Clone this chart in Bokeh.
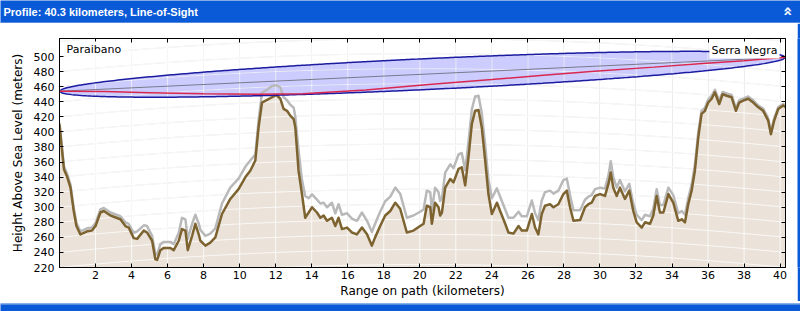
import numpy as np
from bokeh.plotting import figure
from bokeh.models import Range1d, LinearAxis, FixedTicker, Label, Span
from bokeh.layouts import column, row
from bokeh.embed import file_html
from bokeh.resources import INLINE

# ---------------- data ----------------
TITLE = "Profile: 40.3 kilometers, Line-of-Sight"
PATH_KM = 40.3
SITE_A = "Paraibano"
SITE_B = "Serra Negra"
ANT_A_M = 454.0          # antenna height above sea level, site A
ANT_B_M = 499.0          # antenna height above sea level, site B
FRESNEL_MAX_M = 20.5     # first Fresnel zone radius at mid path
K_FACTOR = 4.0 / 3.0
EARTH_R_KM = 6371.0

X_TICKS = list(range(2, 41, 2))
Y_TICKS = list(range(220, 501, 20))
GRID_LEVELS = list(range(200, 541, 20))

dist_km = [0.0, 0.1, 0.25, 0.43, 0.61, 0.79, 0.94, 1.16, 1.35, 1.53, 1.8, 2.0, 2.27, 2.46, 2.83,
           3.38, 3.66, 3.84, 4.12, 4.31, 4.68, 4.86, 5.14, 5.32, 5.42, 5.6, 5.79, 6.16, 6.34, 6.62,
           6.8, 6.99, 7.12, 7.36, 7.54, 7.73, 7.82, 8.1, 8.37, 8.65, 9.02, 9.48, 9.94, 10.32, 10.59,
           10.87, 11.05, 11.24, 11.52, 11.8, 12.04, 12.26, 12.44, 12.63, 12.81, 13.0, 13.09, 13.27,
           13.46, 13.64, 13.83, 14.02, 14.29, 14.48, 14.66, 14.85, 15.12, 15.31, 15.49, 15.68, 15.96,
           16.23, 16.51, 16.79, 17.07, 17.34, 17.52, 17.8, 18.08, 18.36, 18.64, 18.91, 19.28, 19.65,
           20.02, 20.21, 20.39, 20.58, 20.67, 20.85, 21.04, 21.13, 21.23, 21.41, 21.69, 21.87, 22.15,
           22.33, 22.52, 22.7, 22.89, 23.07, 23.26, 23.44, 23.63, 23.81, 24.0, 24.28, 24.46, 24.74,
           24.92, 25.2, 25.48, 25.66, 25.94, 26.22, 26.4, 26.58, 26.77, 26.95, 27.23, 27.42, 27.69,
           27.97, 28.16, 28.34, 28.53, 28.9, 29.17, 29.36, 29.54, 29.73, 30.01, 30.28, 30.47, 30.6,
           30.74, 30.93, 31.11, 31.39, 31.63, 31.85, 32.04, 32.32, 32.5, 32.78, 32.96, 33.15, 33.33,
           33.52, 33.8, 34.07, 34.35, 34.54, 34.72, 34.9, 35.09, 35.27, 35.46, 35.64, 35.83, 36.01,
           36.2, 36.38, 36.62, 36.81, 37.03, 37.31, 37.55, 37.73, 37.95, 38.23, 38.51, 38.79, 39.06,
           39.34, 39.49, 39.67, 39.9, 40.17, 40.3]

terrain_m = [410, 385, 350, 340, 326, 295, 275, 264, 266, 268, 269, 275, 293, 295, 289,
             284, 275, 273, 259, 258, 269, 266.5, 255.5, 231, 230, 243, 246, 246, 243, 255.5,
             271, 269, 243, 262, 278, 264, 255.5, 249, 253, 260, 291, 311, 324, 340, 348.5,
             362, 406, 439, 442.5, 446, 449, 444, 430.5, 428, 421.6, 417, 406, 348.5,
             317.5, 286, 293, 300, 293, 286, 289, 282, 286, 275, 286, 271, 273,
             266.5, 264, 273, 264, 249, 260, 275, 289, 295, 306, 298, 266.5, 269,
             275, 278, 302, 300, 278, 306, 300, 289, 293, 326, 337.5, 333, 351,
             353, 329, 366, 410.6, 428, 429, 406, 362, 317.5, 291, 306, 295, 278,
             266.5, 265, 275, 269, 269, 291, 273, 264, 291, 302, 304, 300, 304,
             317.5, 322, 300, 282, 283, 300, 304, 306, 315, 317.5, 315, 331, 346,
             326, 315, 326, 311, 322, 295, 280, 273, 280, 278, 289, 315, 293,
             293, 317.5, 306, 282, 284, 280, 304, 322, 348.5, 393, 424, 428, 439,
             444, 452.6, 437, 450, 448, 446, 428, 439, 441.5, 444, 439, 432.6, 428,
             415, 397, 415, 430.5, 435, 433]

clutter_top_m = [412, 388, 354, 344, 330, 299, 279, 268, 270, 272, 273, 279, 297, 299, 293,
                 288, 280, 278, 266, 268, 276, 275, 262, 238, 237, 251, 254, 254, 251, 266,
                 286, 284, 258, 278, 290, 278, 270, 262, 265, 272, 305, 326, 338, 354, 362,
                 370, 415, 452, 456, 461, 462, 459, 446, 442, 436, 432, 420, 375,
                 336, 315, 312, 317, 310, 305, 306, 300, 306, 292, 304, 290, 292,
                 285, 282, 293, 282, 267, 278, 294, 308, 314, 326, 318, 286, 289,
                 294, 297, 322, 320, 296, 326, 320, 308, 312, 346, 357, 352, 370,
                 372, 349, 386, 430, 447, 448, 425, 382, 337, 312, 325, 314, 297,
                 286, 286, 294, 288, 288, 309, 292, 283, 309, 320, 322, 318, 322,
                 336, 338, 316, 296, 296, 310, 314, 316, 324, 326, 325, 342, 361,
                 340, 326, 336, 321, 331, 305, 290, 283, 290, 288, 298, 324, 303,
                 303, 326, 316, 292, 295, 290, 312, 330, 356, 400, 428, 432, 443,
                 448, 456, 441, 453, 451, 449, 431, 442, 444, 447, 442, 435, 431,
                 418, 400, 418, 433, 437, 435]

refr_km = [0, 2.5, 5, 8, 11, 13.5, 17, 20.5, 24, 27.2, 29.7, 33, 35.5, 38, 40.3]
refr_m = [454, 453.5, 452, 450.5, 450, 450.5, 455.5, 463, 469.5, 476, 480.5, 486, 490.5, 494.5, 499]

# ---------------- styles ----------------
BLUE = "#0a5ad7"
LIGHT = "#9dbbe8"
FONT = "DejaVu Sans"
Y_START, Y_END = 220, 524

# ---------------- header ----------------
hdr = figure(width=800, height=23, x_range=Range1d(0, 800), y_range=Range1d(0, 23),
             output_backend="svg", toolbar_location=None, title=None,
             x_axis_location=None, y_axis_location=None, min_border=0,
             background_fill_color=BLUE, border_fill_color=BLUE, outline_line_color=None)
hdr.grid.visible = False
hdr.add_layout(Label(x=3, y=12, text=TITLE, text_baseline="middle", text_color="white",
                     text_font="Liberation Sans", text_font_style="bold", text_font_size="11px"))
hdr.add_layout(Label(x=788, y=12, text="\u00ab", angle=-np.pi / 2, text_align="center",
                     text_baseline="middle", text_color="white", text_font="DejaVu Sans",
                     text_font_style="bold", text_font_size="16px"))
hdr.add_layout(Span(location=0.5, dimension="width", line_color=LIGHT, line_width=1))

# ---------------- main plot ----------------
p = figure(width=797, height=278, x_range=Range1d(0, PATH_KM), y_range=Range1d(Y_START, Y_END),
           output_backend="svg", toolbar_location=None, title=None,
           min_border_left=59, min_border_right=12, min_border_top=15, min_border_bottom=34,
           background_fill_color="white", border_fill_color="white", outline_line_color="black")

p.xaxis.ticker = FixedTicker(ticks=X_TICKS)
p.yaxis.ticker = FixedTicker(ticks=Y_TICKS)
p.xgrid.ticker = FixedTicker(ticks=X_TICKS)
p.xgrid.grid_line_color = "#e0e0e0"
p.ygrid.visible = False

for ax in (p.xaxis, p.yaxis):
    ax.major_tick_in = 4
    ax.major_tick_out = 0
    ax.minor_tick_line_color = None
    ax.axis_line_color = "black"
    ax.major_tick_line_color = "black"
    ax.major_label_text_font = FONT
    ax.major_label_text_font_size = "11px"
    ax.major_label_text_color = "black"
    ax.axis_label_text_font = FONT
    ax.axis_label_text_font_size = "12px"
    ax.axis_label_text_font_style = "normal"
    ax.axis_label_text_color = "black"
p.xaxis.axis_label = "Range on path (kilometers)"
p.yaxis.axis_label = "Height Above Sea Level (meters)"
p.xaxis.major_label_standoff = 3
p.xaxis.axis_label_standoff = 2
p.yaxis.major_label_standoff = 5
p.yaxis.axis_label_standoff = 6

# tick-only axes on top and right (no labels drawn)
for loc, ticks in (("above", X_TICKS), ("right", Y_TICKS)):
    ax = LinearAxis(ticker=FixedTicker(ticks=ticks), major_tick_in=4, major_tick_out=0,
                    minor_tick_line_color=None, major_label_text_color=None,
                    major_label_text_font_size="1px", major_label_standoff=0,
                    axis_line_color="black", major_tick_line_color="black")
    p.add_layout(ax, loc)

# curved (earth-bulge) grid lines and vertical grid lines
xg = np.linspace(0, PATH_KM, 200)
bulge = xg * (PATH_KM - xg) / (2 * K_FACTOR * EARTH_R_KM) * 1000.0
curve_xs = [xg for _ in GRID_LEVELS]
curve_ys = [lvl + bulge for lvl in GRID_LEVELS]
vert_xs = [[t, t] for t in X_TICKS]
vert_ys = [[Y_START, Y_END] for _ in X_TICKS]

p.multi_line(curve_xs, curve_ys, line_color="#e0e0e0", line_width=1)

# terrain fill
p.varea(x=dist_km, y1=0, y2=terrain_m, fill_color="#ebe3da")

# Fresnel zone
xe = np.linspace(0, PATH_KM, 300)
los = ANT_A_M + (ANT_B_M - ANT_A_M) * xe / PATH_KM
rad = FRESNEL_MAX_M * 2 * np.sqrt(np.clip(xe * (PATH_KM - xe), 0, None)) / PATH_KM
ex = np.concatenate([xe, xe[::-1]])
ey = np.concatenate([los + rad, (los - rad)[::-1]])
p.patch(ex, ey, fill_color="#6464ff", fill_alpha=0.33, line_color=None)

# light grid lines over the fills
p.multi_line(curve_xs, curve_ys, line_color="white", line_alpha=0.75, line_width=1)
p.multi_line(vert_xs, vert_ys, line_color="white", line_alpha=0.75, line_width=1)

# terrain lines
p.line(dist_km, clutter_top_m, line_color="#b9b9b9", line_width=2.5, line_join="round")
p.line(dist_km, terrain_m, line_color="#7d6330", line_width=2.5, line_join="round")

# Fresnel outline, line of sight, refracted ray
p.line(np.append(ex, ex[0]), np.append(ey, ey[0]), line_color="#1c1ca0", line_width=1.5)
p.line([0, PATH_KM], [ANT_A_M, ANT_B_M], line_color="#7a7a8c", line_width=1)
p.line(refr_km, refr_m, line_color="#d8284f", line_width=1.5)

p.add_layout(Label(x=0, y=Y_END, x_offset=6, y_offset=-3, text=SITE_A, text_baseline="top",
                   text_font=FONT, text_font_size="11px", text_color="black",
                   background_fill_color="white", padding=1))
p.add_layout(Label(x=PATH_KM, y=Y_END, x_offset=-6, y_offset=-3, text=SITE_B, text_align="right",
                   text_baseline="top", text_font=FONT, text_font_size="11px", text_color="black",
                   background_fill_color="white", padding=2))

# ---------------- right strip & footer ----------------
strip = figure(width=3, height=278, output_backend="svg", toolbar_location=None, title=None,
               x_axis_location=None, y_axis_location=None, min_border=0,
               background_fill_color=BLUE, border_fill_color=BLUE, outline_line_color=None)
strip.grid.visible = False

ftr = figure(width=800, height=10, x_range=Range1d(0, 800), y_range=Range1d(0, 10),
             output_backend="svg", toolbar_location=None, title=None,
             x_axis_location=None, y_axis_location=None, min_border=0,
             background_fill_color=BLUE, border_fill_color=BLUE, outline_line_color=None)
ftr.grid.visible = False
ftr.add_layout(Span(location=9.5, dimension="width", line_color=LIGHT, line_width=1))

layout = column(hdr, row(p, strip), ftr)
open("out.html", "w").write(file_html(layout, INLINE))
